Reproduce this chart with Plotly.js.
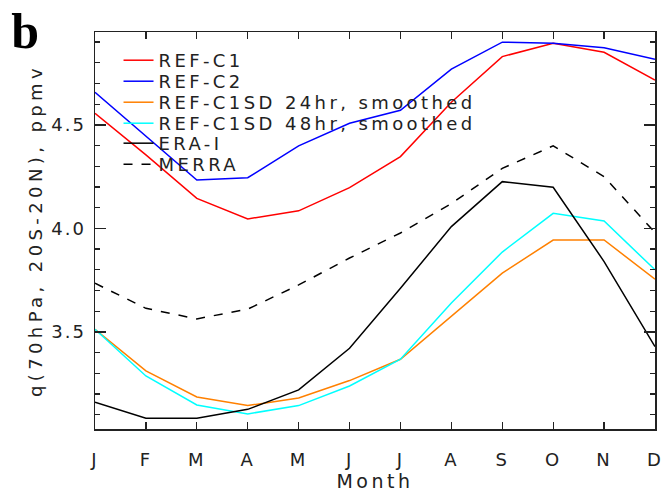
<!DOCTYPE html>
<html><head><meta charset="utf-8">
<script src="https://cdn.plot.ly/plotly-3.0.1.min.js"></script>
<style>
html,body{margin:0;padding:0;background:#fff}#chart{width:664px;height:495px}
#chart svg text{letter-spacing:3.4px}
#chart svg .xtick text,#chart svg .ytick text{letter-spacing:2px}
#chart svg .g-ytitle text{letter-spacing:4.4px}
#chart svg .g-xtitle text{letter-spacing:3.5px}
#chart svg .infolayer *{clip-path:none !important}
</style>
</head><body><div id="chart"></div>
<script>
const months = [0,1,2,3,4,5,6,7,8,9,10,11];
const monthLabels = ["J","F","M","A","M","J","J","A","S","O","N","D"];
const refC1 = [4.556,4.355,4.145,4.046,4.085,4.197,4.347,4.61,4.83,4.895,4.851,4.717];
const refC2 = [4.658,4.447,4.234,4.245,4.399,4.508,4.571,4.77,4.90,4.895,4.873,4.817];
const refC1SD24 = [3.513,3.312,3.186,3.144,3.181,3.265,3.368,3.574,3.784,3.944,3.944,3.755];
const refC1SD48 = [3.513,3.287,3.147,3.104,3.144,3.239,3.368,3.64,3.886,4.073,4.036,3.80];
const eraI = [3.16,3.083,3.083,3.126,3.22,3.421,3.711,4.009,4.226,4.199,3.84,3.429];
const merra = [3.735,3.614,3.563,3.61,3.727,3.857,3.978,4.12,4.29,4.399,4.25,3.98];
const names = ["REF-C1","REF-C2","REF-C1SD 24hr, smoothed","REF-C1SD 48hr, smoothed","ERA-I","MERRA"];
const seriesList = [refC1, refC2, refC1SD24, refC1SD48, eraI, merra];
const colors = ["#ff0000","#0000ff","#ff8000","#00ffff","#000000","#000000"];
const dashes = ["solid","solid","solid","solid","solid","dash"];
const legendIds = ["legend","legend2","legend3","legend4","legend5","legend6"];
const legendY = [0.9282,0.8753,0.8224,0.7695,0.7192,0.6663];

const FONT = "DejaVu Sans, sans-serif";
const traces = seriesList.map((s,i)=>({
  x: months, y: s, type:"scatter", mode:"lines", name: names[i],
  line:{color:colors[i], width:1.5, dash:dashes[i]},
  legend: legendIds[i], showlegend:true
}));

const layout = {
  width:664, height:495,
  margin:{l:95, r:9, t:32, b:66},
  paper_bgcolor:"#fff", plot_bgcolor:"#fff",
  font:{family:FONT, color:"#222", size:18},
  xaxis:{
    range:[0,11], tickvals:months, ticktext:monthLabels,
    ticks:"inside", ticklen:7, tickwidth:1.3, tickcolor:"#222",
    showline:true, linecolor:"#222", linewidth:1.5, mirror:"ticks",
    showgrid:false, zeroline:false, ticklabelstandoff:14,
    tickfont:{size:18, family:FONT, color:"#222"},
    title:{text:"Month", font:{size:19, family:FONT, color:"#222"}, standoff:5}
  },
  yaxis:{
    range:[3.031,4.949], tickvals:[3.5,4.0,4.5], ticktext:["3.5","4.0","4.5"],
    ticks:"inside", ticklen:11, tickwidth:1.3, tickcolor:"#222",
    showline:true, linecolor:"#222", linewidth:1.5, mirror:"ticks",
    showgrid:false, zeroline:false, ticklabelstandoff:4,
    minor:{dtick:0.1, tick0:3.0, ticks:"inside", ticklen:5, tickwidth:1.3, tickcolor:"#222", showgrid:false},
    tickfont:{size:18, family:FONT, color:"#222"},
    title:{text:"q(70hPa, 20S-20N), ppmv", font:{size:18, family:FONT, color:"#222"}, standoff:10}
  },
  annotations:[{
    text:"<b>b</b>", xref:"paper", yref:"paper", x:-0.15, y:1.077,
    xanchor:"left", yanchor:"top", showarrow:false,
    font:{family:"Liberation Serif, serif", size:50, color:"#000"}
  }]
};
legendIds.forEach((id,i)=>{
  layout[id] = {
    x:0.042, y:legendY[i], xanchor:"left", yanchor:"middle",
    bgcolor:"rgba(0,0,0,0)", borderwidth:0,
    font:{family:FONT, size:18, color:"#222"},
    itemwidth:30, tracegroupgap:0
  };
});
Plotly.newPlot("chart", traces, layout, {displayModeBar:false, staticPlot:true});
</script></body></html>
